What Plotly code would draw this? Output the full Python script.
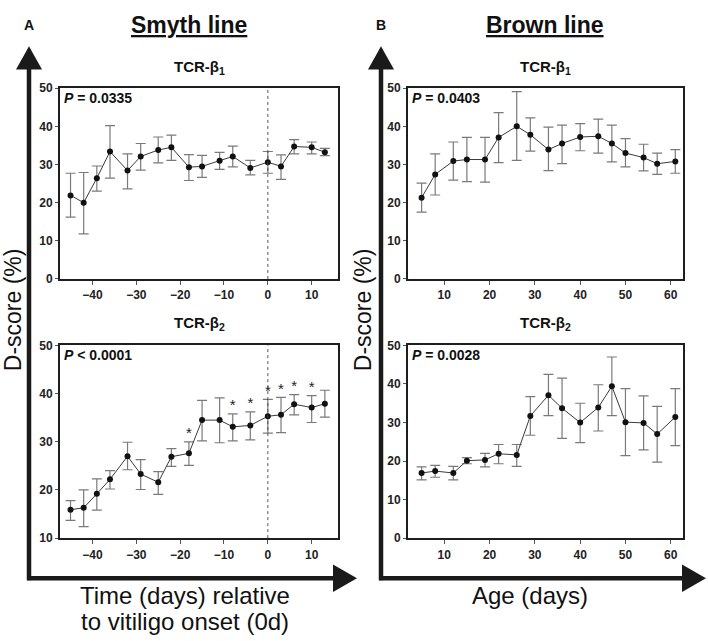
import plotly.graph_objects as go

W, H = 708, 641

# ---------------- data ----------------
smyth_days = [-45, -42, -39, -36, -32, -29, -25, -22, -18, -15, -11, -8, -4, 0, 3, 6, 10, 13]
smyth_b1 = [21.9, 20.0, 26.4, 33.4, 28.4, 32.1, 33.8, 34.5, 29.3, 29.5, 31.0, 32.1, 29.1, 30.6, 29.5, 34.7, 34.5, 33.2]
smyth_b1_hi = [27.7, 27.9, 29.6, 40.2, 32.8, 35.5, 37.2, 37.7, 32.6, 32.4, 33.2, 34.8, 31.1, 33.4, 32.5, 36.5, 35.9, 34.2]
smyth_b1_lo = [16.2, 11.8, 23.0, 26.4, 23.6, 28.5, 30.4, 31.1, 25.8, 26.6, 28.7, 29.4, 27.3, 27.7, 26.1, 32.8, 32.8, 32.3]
smyth_b2 = [15.9, 16.3, 19.2, 22.2, 27.0, 23.3, 21.6, 26.9, 27.6, 34.5, 34.5, 33.1, 33.4, 35.3, 35.6, 37.8, 37.1, 37.9]
smyth_b2_hi = [17.8, 20.0, 22.3, 24.0, 29.9, 26.3, 23.8, 28.6, 30.0, 38.6, 39.1, 35.8, 36.2, 38.8, 39.2, 39.8, 39.6, 40.7]
smyth_b2_lo = [13.7, 12.4, 15.8, 20.2, 24.2, 20.1, 19.1, 24.9, 25.1, 30.2, 29.8, 30.2, 30.4, 31.8, 31.9, 35.6, 34.0, 35.1]
smyth_b2_sig = [0, 0, 0, 0, 0, 0, 0, 0, 1, 0, 0, 1, 1, 1, 1, 1, 1, 0]

brown_age = [5, 8, 12, 15, 19, 22, 26, 29, 33, 36, 40, 44, 47, 50, 54, 57, 61]
brown_b1 = [21.3, 27.4, 30.9, 31.3, 31.3, 37.1, 40.0, 37.8, 33.9, 35.5, 37.2, 37.4, 35.5, 33.0, 31.8, 30.2, 30.8]
brown_b1_hi = [25.1, 32.8, 35.9, 37.1, 37.1, 43.6, 49.1, 42.2, 39.8, 40.3, 40.7, 41.9, 40.3, 36.8, 35.3, 33.0, 33.9]
brown_b1_lo = [17.5, 22.0, 25.9, 25.5, 25.4, 30.5, 31.1, 33.5, 28.4, 30.2, 33.6, 33.0, 30.7, 29.4, 28.3, 27.4, 27.7]
brown_b2 = [16.9, 17.4, 16.9, 20.1, 20.3, 21.9, 21.6, 31.7, 37.1, 33.7, 30.0, 33.9, 39.4, 30.1, 29.9, 27.0, 31.4]
brown_b2_hi = [18.5, 18.9, 18.6, 20.9, 22.0, 24.3, 24.3, 36.7, 42.5, 41.5, 35.0, 39.8, 47.0, 38.8, 36.9, 34.2, 38.8]
brown_b2_lo = [15.1, 15.8, 15.1, 19.3, 18.5, 19.3, 18.6, 26.7, 31.8, 25.9, 24.8, 27.8, 31.8, 21.4, 22.9, 19.7, 24.0]

p_values = ["<i>P</i> = 0.0335", "<i>P</i> &lt; 0.0001", "<i>P</i> = 0.0403", "<i>P</i> = 0.0028"]
smyth_xticks = [-40, -30, -20, -10, 0, 10]
brown_xticks = [10, 20, 30, 40, 50, 60]

# ---------------- helpers ----------------
FONT = "Arial, Liberation Sans, sans-serif"
def px(x):
    return x / W
def py(y):
    return 1 - y / H

fig = go.Figure()

panels = [
    (smyth_days, smyth_b1, smyth_b1_hi, smyth_b1_lo, "x", "y"),
    (smyth_days, smyth_b2, smyth_b2_hi, smyth_b2_lo, "x2", "y2"),
    (brown_age, brown_b1, brown_b1_hi, brown_b1_lo, "x3", "y3"),
    (brown_age, brown_b2, brown_b2_hi, brown_b2_lo, "x4", "y4"),
]

for xs, ys, hi, lo, xa, ya in panels:
    fig.add_trace(go.Scatter(
        x=xs, y=ys, mode="lines+markers", xaxis=xa, yaxis=ya,
        line=dict(color="#3a3a3a", width=1),
        marker=dict(color="#111111", size=6),
        error_y=dict(type="data", symmetric=False,
                     array=[h - v for h, v in zip(hi, ys)],
                     arrayminus=[v - l for l, v in zip(lo, ys)],
                     color="#7a7a7a", thickness=1.2, width=5),
        showlegend=False, hoverinfo="x+y",
    ))

# significance stars (Smyth TCR-b2)
star_x = [d for d, s in zip(smyth_days, smyth_b2_sig) if s]
star_y = [h for h, s in zip(smyth_b2_hi, smyth_b2_sig) if s]
fig.add_trace(go.Scatter(
    x=star_x, y=star_y, mode="text", text=["*"] * len(star_x),
    textposition="top center", xaxis="x2", yaxis="y2",
    textfont=dict(family=FONT, size=15, color="#222222"),
    showlegend=False, hoverinfo="skip",
))

# ---------------- axes ----------------
xA = [px(60), px(338)]
xB = [px(408), px(683)]
yTop = [py(278), py(83)]
yBot = [py(543), py(346)]

common_x = dict(showline=True, mirror=True, linecolor="#1e1e1e", linewidth=2,
                ticks="outside", ticklen=4, tickcolor="#555", tickwidth=1,
                showgrid=False, zeroline=False,
                tickfont=dict(family=FONT, size=12, color="#222", weight="bold"))
common_y = dict(showline=True, mirror=True, linecolor="#1e1e1e", linewidth=2,
                ticks="outside", ticklen=3, tickcolor="#555", tickwidth=1,
                showgrid=False, zeroline=False, dtick=10,
                tickfont=dict(family=FONT, size=12, color="#222", weight="bold"))

fig.update_layout(
    xaxis=dict(domain=xA, anchor="y", range=[-47.4, 16.0], tickvals=smyth_xticks, **common_x),
    yaxis=dict(domain=yTop, anchor="x", range=[0, 50], **common_y),
    xaxis2=dict(domain=xA, anchor="y2", range=[-47.4, 16.0], tickvals=smyth_xticks, **common_x),
    yaxis2=dict(domain=yBot, anchor="x2", range=[10, 50], **common_y),
    xaxis3=dict(domain=xB, anchor="y3", range=[2.0, 62.7], tickvals=brown_xticks, **common_x),
    yaxis3=dict(domain=yTop, anchor="x3", range=[0, 50], **common_y),
    xaxis4=dict(domain=xB, anchor="y4", range=[2.0, 62.7], tickvals=brown_xticks, **common_x),
    yaxis4=dict(domain=yBot, anchor="x4", range=[0, 50], **common_y),
    width=W, height=H, margin=dict(l=0, r=0, t=0, b=0),
    paper_bgcolor="white", plot_bgcolor="white",
    font=dict(family=FONT, color="#111"),
)

# vertical dotted onset lines at day 0
for xr, yr in [("x", "y"), ("x2", "y2")]:
    fig.add_shape(type="line", xref=xr, yref=yr + " domain", x0=0, x1=0, y0=0, y1=1,
                  line=dict(color="#444", width=0.9, dash="dot"))

# ---------------- big arrows ----------------
def arrows(xv, xend):
    yh = 584
    lw = 4.5
    fig.add_shape(type="line", xref="paper", yref="paper",
                  x0=px(xv), x1=px(xv), y0=py(yh + 2), y1=py(60),
                  line=dict(color="#1a1a1a", width=lw))
    fig.add_shape(type="path", xref="paper", yref="paper",
                  path=f"M {px(xv-13)} {py(64)} L {px(xv+13)} {py(64)} L {px(xv)} {py(40)} Z",
                  fillcolor="#1a1a1a", line=dict(width=0))
    fig.add_shape(type="line", xref="paper", yref="paper",
                  x0=px(xv - 2), x1=px(xend - 20), y0=py(yh), y1=py(yh),
                  line=dict(color="#1a1a1a", width=lw))
    fig.add_shape(type="path", xref="paper", yref="paper",
                  path=f"M {px(xend-24)} {py(yh-14)} L {px(xend-24)} {py(yh+14)} L {px(xend)} {py(yh)} Z",
                  fillcolor="#1a1a1a", line=dict(width=0))

arrows(29, 357)
arrows(381, 706)

# ---------------- text ----------------
def ann(x, y, text, size, xanchor="center", yanchor="middle", angle=0):
    fig.add_annotation(x=px(x), y=py(y), xref="paper", yref="paper", text=text,
                       showarrow=False, xanchor=xanchor, yanchor=yanchor, textangle=angle,
                       font=dict(family=FONT, size=size, color="#111"))

ann(29, 18, "<b>A</b>", 14)
ann(381, 18, "<b>B</b>", 14)
ann(189, 18, "<b><u>Smyth line</u></b>", 23)
ann(545, 18, "<b><u>Brown line</u></b>", 23)

ann(199, 62, "<b>TCR-β<sub>1</sub></b>", 15)
ann(199, 324, "<b>TCR-β<sub>2</sub></b>", 15)
ann(545, 62, "<b>TCR-β<sub>1</sub></b>", 15)
ann(545, 324, "<b>TCR-β<sub>2</sub></b>", 15)

ann(62, 93, "<b>" + p_values[0] + "</b>", 14, xanchor="left")
ann(62, 356, "<b>" + p_values[1] + "</b>", 14, xanchor="left")
ann(410, 93, "<b>" + p_values[2] + "</b>", 14, xanchor="left")
ann(410, 356, "<b>" + p_values[3] + "</b>", 14, xanchor="left")

ann(13, 310, "D-score (%)", 23, angle=-90)
ann(363, 310, "D-score (%)", 23, angle=-90)

ann(185, 602, "Time (days) relative", 24)
ann(185, 628, "to vitiligo onset (0d)", 24)
ann(530, 602, "Age (days)", 24)

# the page's default 8px body margin would shift the whole figure; remove it
fig.write_html("out.html", config={"displayModeBar": False},
               post_script="document.body.style.margin='0px';")
